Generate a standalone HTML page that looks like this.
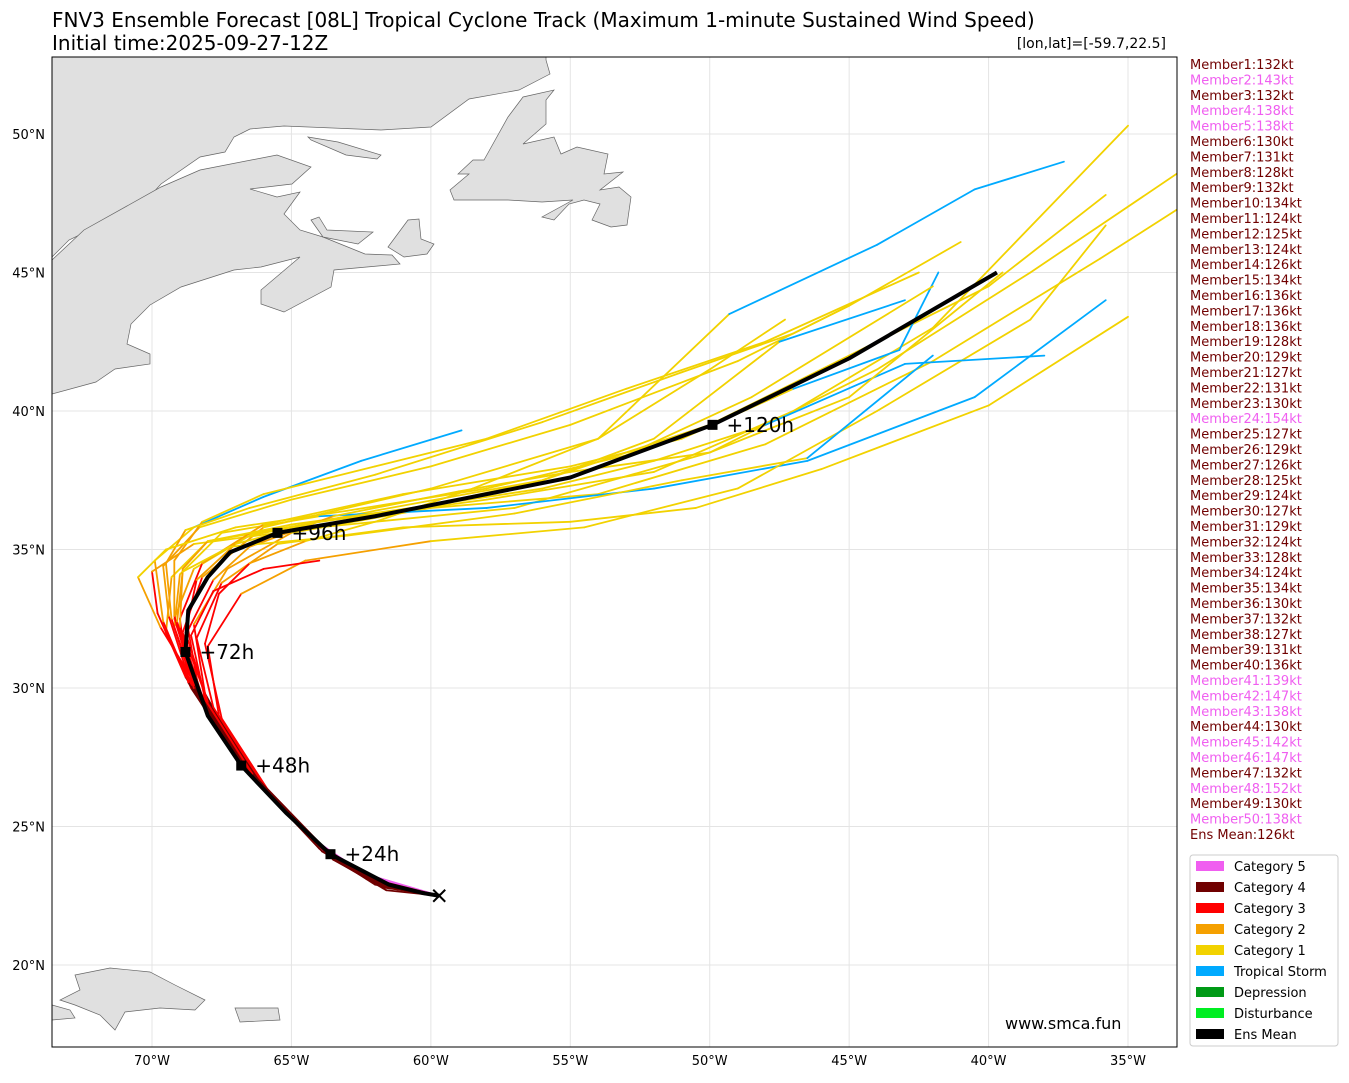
<!DOCTYPE html>
<html><head><meta charset="utf-8"><style>
body{margin:0;background:#fff;}
svg text{font-family:"DejaVu Sans","Liberation Sans",sans-serif;}
</style></head><body>
<svg id="chart" width="1349" height="1078" xmlns="http://www.w3.org/2000/svg">
<rect width="1349" height="1078" fill="#fff"/>
<text x="52" y="27" font-size="20" fill="#000">FNV3 Ensemble Forecast [08L] Tropical Cyclone Track (Maximum 1-minute Sustained Wind Speed)</text>
<text x="52" y="50" font-size="20" fill="#000">Initial time:2025-09-27-12Z</text>
<text x="1166" y="48" font-size="14" text-anchor="end" fill="#000">[lon,lat]=[-59.7,22.5]</text>
<defs><clipPath id="mapclip"><rect x="52" y="57" width="1125" height="990"/></clipPath></defs>
<g clip-path="url(#mapclip)">
<g id="grid"></g>
<g fill="#e0e0e0" stroke="#666" stroke-width="0.7">
<polygon points="52,57 546,57 546,60 550,74 519,90 469,99 431,127 381,130 284,126 250,129 234,137 225,152 200,157 161,184 131,217 92,229 69,240 52,257"/>
<polygon points="52,260 84,230 161,187 200,170 277,155 311,167 292,184 250,189 277,197 300,192 284,214 300,230 323,237 365,254 392,255 400,264 334,270 331,287 284,312 261,304 261,290 300,257 261,267 234,270 181,287 150,305 131,324 127,344 150,354 150,364 115,369 96,382 52,394"/>
<polygon points="388,247 408,220 419,219 421,239 434,244 427,254 404,257"/>
<polygon points="311,220 319,217 327,230 373,232 358,244 323,237"/>
<polygon points="308,137 338,142 381,155 377,159 346,155 311,140"/>
<polygon points="484,160 508,117 523,97 554,90 546,100 546,124 523,144 554,137 561,154 577,147 608,154 604,174 623,172 600,190 619,187 631,197 627,225 611,227 592,220 600,204 584,200 569,204 554,220 542,217 573,200 542,202 508,200 454,200 450,190 469,174 458,174 473,160"/>
<polygon points="75,975 110,968 150,972 175,985 205,1000 195,1010 160,1008 125,1012 115,1030 100,1015 75,1005 60,1000 80,990"/>
<polygon points="235,1008 278,1008 280,1020 240,1022"/>
<polygon points="52,1005 70,1010 75,1018 52,1020"/>
</g>
<g id="tracks"></g>
<g id="mean"></g>
</g>
<rect x="52" y="57" width="1125" height="990" fill="none" stroke="#000" stroke-width="1"/>
<g id="axes"></g>
<g id="members"></g>
<g>
<rect x="1190" y="855" width="148" height="191" rx="3" fill="#fff" stroke="#ccc"/>
<g id="legend"></g>
</g>
<text x="1005" y="1029" font-size="16" fill="#000">www.smca.fun</text>
</svg>
<script>
const lonTicks=[-70,-65,-60,-55,-50,-45,-40,-35];
const lonLabels=["70°W","65°W","60°W","55°W","50°W","45°W","40°W","35°W"];
const latTicks=[20,25,30,35,40,45,50];
const latLabels=["20°N","25°N","30°N","35°N","40°N","45°N","50°N"];
const meanLon=[-59.7,-60.3,-61.5,-63.6,-65.2,-66.8,-68.0,-68.8,-68.7,-68.0,-67.2,-65.5,-62,-55,-49.9,-45,-39.7];
const meanLat=[22.5,22.6,22.9,24.0,25.5,27.2,29.0,31.3,32.8,34.0,34.9,35.6,36.2,37.6,39.5,41.9,45.0];
const meanMarkIdx=[3,5,7,11,14];
const meanMarkLabels=["+24h","+48h","+72h","+96h","+120h"];
const trackLons=[
[-59.7,-61.8,-63.7,-66.0,-68.0,-68.9,-68.2,-66,-60,-54,-49.3,-44,-40.5,-37.3],
[-59.7,-62.2,-64,-66.6,-68.4,-69.2,-68.5,-66.5,-62,-56,-50,-45,-40,-35.8],
[-59.7,-61.5,-63.5,-66.2,-68.3,-69.5,-69.3,-68,-64,-58,-52,-47,-42,-35],
[-59.7,-62,-63.9,-66.8,-68.8,-69.8,-70,-68.5,-64,-57,-50,-44,-38.5,-33.2],
[-59.7,-62.3,-64.2,-66.5,-68.1,-68.5,-67.3,-65,-60,-54,-48,-42,-36,-33.2],
[-59.7,-62,-63.8,-66.4,-68.4,-69.2,-69,-67.5,-64,-58,-52,-46.5,-40.5,-35.8],
[-59.7,-61.9,-63.6,-66,-67.8,-68.4,-67.5,-65.5,-61,-55,-50.5,-46,-40,-35],
[-59.7,-62.1,-64,-66.7,-68.6,-69.4,-69.6,-68.3,-65,-60,-55,-49,-45,-41],
[-59.7,-62,-63.9,-66.6,-68.6,-69.6,-69.9,-68.5,-66,-62.5,-58.9],
[-59.7,-61.7,-63.5,-65.8,-67.6,-68,-66.8,-64.5,-60,-54.5,-49,-44,-38.5,-35.8],
[-59.7,-62.4,-64.3,-66.9,-68.7,-69,-68.2,-66,-61,-55,-51,-47,-43.2,-41.8],
[-59.7,-61.6,-63.3,-65.7,-67.5,-68.1,-67.6,-66.5,-64.5,-62,-58.5,-54,-50,-47.3],
[-59.7,-62,-63.7,-66.2,-68.2,-69,-68.9,-68,-65,-60,-56,-52,-48,-43,-38],
[-59.7,-62.2,-63.9,-66.5,-68.3,-68.7,-67.8,-66.5,-63.5,-59,-55,-50,-45,-39.5],
[-59.7,-61.8,-63.6,-66.1,-68,-68.8,-68.4,-67,-64,-60,-56,-52,-47.5,-43],
[-59.7,-62.3,-64.1,-66.7,-68.5,-69.2,-69.2,-68.2,-66,-62,-58,-53,-48,-42.5],
[-59.7,-62,-63.8,-66.3,-68.1,-68.6,-67.8,-66,-64],
[-59.7,-61.9,-63.8,-66.4,-68.4,-69.1,-68.9,-67.2,-63,-57,-51,-46.5,-42],
[-59.7,-62.1,-63.9,-66.6,-68.5,-69.3,-69.5,-68.8,-66.5,-62,-56,-51,-47,-45],
[-59.7,-62,-63.8,-66.4,-68.3,-69.7,-70.5,-69.5,-67,-63,-58,-53,-48.5,-42]
];
const trackLats=[
[22.5,23.0,24.1,26.5,29.5,32.0,34.0,35.8,37.2,39.0,43.5,46.0,48.0,49.0],
[22.5,23.2,24.3,27,30,32.5,34.3,35.5,36.4,37.5,39.5,42,44.5,47.8],
[22.5,22.8,23.9,26.6,29.6,32,34,35.3,36,36.8,37.8,40,43,50.3],
[22.5,23,24.2,27.2,30.4,32.7,34.2,35.2,35.8,36.5,38.5,41.5,45,48.6],
[22.5,23.1,24.5,26.9,29.8,32.3,34.3,35.6,36.5,37,38.8,41.8,45.5,47.3],
[22.5,23,24.1,26.8,29.9,32.2,34.1,35.6,36.2,36.5,37.2,38.2,40.5,44],
[22.5,22.9,23.9,26.4,29.3,31.8,33.8,35.2,35.8,36,36.5,37.9,40.2,43.4],
[22.5,23.1,24.2,27.1,30.1,32.6,34.4,35.8,36.8,38,39.5,41.8,43.8,46.1],
[22.5,23,24.1,27,30,32.4,34.6,35.8,36.9,38.2,39.3],
[22.5,22.8,23.8,26.2,29,31.5,33.4,34.6,35.3,35.8,37.2,40,43.3,46.7],
[22.5,23.3,24.6,27.3,30.2,32.5,34.5,35.9,37,38,39,40.8,42.2,45],
[22.5,22.7,23.7,26.1,28.9,31.6,33.4,34.5,35.3,36,37.2,39,41.5,43.3],
[22.5,22.9,24,26.7,29.7,32.2,34.3,35.3,35.9,36.6,37.2,38.2,39.5,41.7,42],
[22.5,23.1,24.3,26.9,29.8,32.1,33.9,35.1,36.2,37.1,37.8,38.5,40.5,45],
[22.5,22.9,24,26.5,29.5,32,33.9,35.2,36,36.6,37.5,39,42.5,44],
[22.5,23.2,24.4,27.1,30.1,32.6,34.6,36,37,38,39,40.8,42.5,45],
[22.5,23,24.1,26.7,29.6,31.9,33.5,34.3,34.6],
[22.5,23,24.2,26.9,30,32.4,34.2,35.1,35.5,36.3,37.5,38.3,42],
[22.5,23.1,24.2,27,30,32.5,34.5,35.7,36.5,37.7,39.6,41.4,42.8,43.8],
[22.5,23,24.1,26.9,29.9,32.2,34,35,35.8,36.4,37.2,38.4,40.5,44.5]
];
const trackCats=[
[4,4,4,4,3,3,2,1,1,1,0,0,0,0],
[5,5,4,4,3,2,1,1,1,1,1,1,1,1],
[4,4,4,4,3,2,1,1,1,1,1,1,1,1],
[5,5,5,4,3,3,2,1,1,1,1,1,1,1],
[4,4,4,4,3,2,2,1,1,1,1,1,1,1],
[4,4,4,4,3,2,1,1,0,0,0,0,0,0],
[4,4,4,3,3,3,2,1,1,1,1,1,1,1],
[5,5,4,4,3,2,2,1,1,1,1,1,1,1],
[4,4,4,4,3,2,1,0,0,0,0],
[4,4,4,3,3,3,2,2,1,1,1,1,1,1],
[5,5,4,4,3,3,2,1,1,1,1,0,0,0],
[4,4,4,3,3,3,3,2,1,1,1,1,1,1],
[4,4,4,4,3,2,2,1,1,1,1,1,0,0,0],
[4,4,4,4,3,3,2,2,1,1,1,1,1,1],
[4,4,4,4,3,3,2,1,1,1,1,1,0,0],
[5,5,4,4,3,2,2,1,1,1,1,1,1,1],
[4,4,4,3,3,3,3,3,2],
[4,4,4,4,3,2,1,1,1,1,1,0,0],
[4,4,4,4,3,2,2,1,1,1,1,1,1,1],
[4,4,4,3,3,2,1,1,1,1,1,1,1,1]
];
const memberWinds=[132,143,132,138,138,130,131,128,132,134,124,125,124,126,134,136,136,136,128,129,127,131,130,154,127,129,126,125,124,127,129,124,128,124,134,130,132,127,131,136,139,147,138,130,142,147,132,152,130,138];
const meanWind=126;
const legendLabels=["Category 5","Category 4","Category 3","Category 2","Category 1","Tropical Storm","Depression","Disturbance","Ens Mean"];
const legendColors=["#f05ef0","#700000","#ff0000","#f5a000","#f2d200","#00aaff","#009a16","#00ee22","#000000"];

const NS="http://www.w3.org/2000/svg";
function xS(lon){return 152+(lon+70)*27.886;}
function yS(lat){return 134+(50-lat)*27.7;}
function colorOf(c){return c===0?"#00aaff":c===1?"#f2d200":c===2?"#f5a000":c===3?"#ff0000":c===4?"#700000":"#f05ef0";}
function mk(tag,attrs,parent){const e=document.createElementNS(NS,tag);for(const k in attrs)e.setAttribute(k,attrs[k]);parent.appendChild(e);return e;}

const grid=document.getElementById('grid'),axes=document.getElementById('axes');
lonTicks.forEach((v,i)=>{
  const l=mk('line',{x1:xS(v),x2:xS(v),y1:57,y2:1047,stroke:'#e4e4e4','stroke-width':1},grid);
  
  
  const t=mk('text',{x:xS(v),y:1065,'font-size':13,'text-anchor':'middle'},axes);
  t.textContent=lonLabels[i];
  
  
});
latTicks.forEach((v,i)=>{
  const l=mk('line',{x1:52,x2:1177,y1:yS(v),y2:yS(v),stroke:'#e4e4e4','stroke-width':1},grid);
  
  
  const t=mk('text',{x:45,y:yS(v)+5,'font-size':13,'text-anchor':'end'},axes);
  t.textContent=latLabels[i];
  
  
});

const tg=document.getElementById('tracks');
trackLons.forEach((lons,ti)=>{
  const lats=trackLats[ti],cats=trackCats[ti];
  for(let i=0;i<lons.length-1;i++){
    const s=mk('line',{x1:xS(lons[i]),y1:yS(lats[i]),x2:xS(lons[i+1]),y2:yS(lats[i+1]),stroke:colorOf(cats[i]),'stroke-width':1.8,'stroke-linecap':'round'},tg);
    
    
  }
});

const mg=document.getElementById('mean');
const pl=mk('polyline',{points:meanLon.map((v,i)=>xS(v)+','+yS(meanLat[i])).join(' '),fill:'none',stroke:'#000','stroke-width':4,'stroke-linejoin':'round'},mg);


meanMarkIdx.forEach((idx,k)=>{
  const x=xS(meanLon[idx]),y=yS(meanLat[idx]);
  const r=mk('rect',{x:x-5,y:y-5,width:10,height:10,fill:'#000'},mg);
  
  
  const t=mk('text',{x:x+14,y:y+7,'font-size':20},mg);
  t.textContent=meanMarkLabels[k];
  
  
});
const sx=xS(meanLon[0]),sy=yS(meanLat[0]);
const xm=mk('path',{d:`M${sx-6},${sy-6}L${sx+6},${sy+6}M${sx-6},${sy+6}L${sx+6},${sy-6}`,stroke:'#000','stroke-width':2},mg);



const mem=document.getElementById('members');
memberWinds.forEach((w,i)=>{
  const t=mk('text',{x:1190,y:69+i*15.4,'font-size':13,fill:w>=137?'#f05ef0':'#700000'},mem);
  t.textContent='Member'+(i+1)+':'+w+'kt';
  
  
});
const mt=mk('text',{x:1190,y:69+50*15.4,'font-size':13,fill:'#700000'},mem);
mt.textContent='Ens Mean:'+meanWind+'kt';



const lg=document.getElementById('legend');
legendLabels.forEach((lab,i)=>{
  const y=866+i*21;
  const r=mk('rect',{x:1196,y:y-5,width:28,height:10,fill:legendColors[i]},lg);
  
  
  const t=mk('text',{x:1234,y:y+5,'font-size':13},lg);
  t.textContent=lab;
  
  
});
</script>
</body></html>
